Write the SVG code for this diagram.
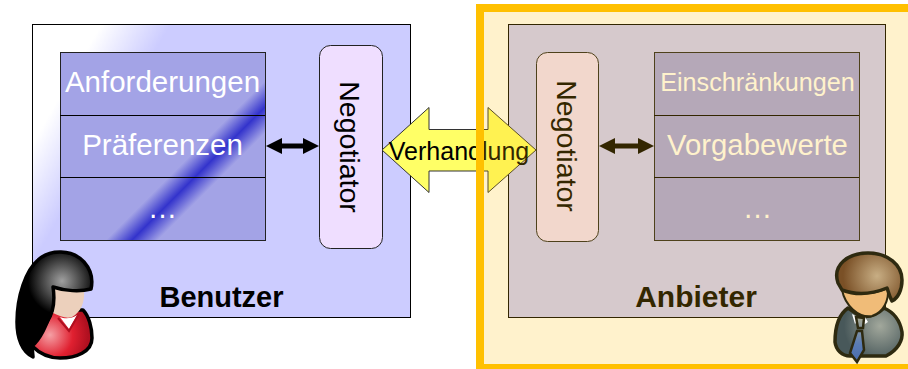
<svg xmlns="http://www.w3.org/2000/svg" width="908" height="369" viewBox="0 0 908 369">
<style>
text{font-family:"Liberation Sans",Arial,sans-serif;text-anchor:middle}
.box{fill:#ccccff;stroke:#000;stroke-width:1}
.cell{stroke:#222;stroke-width:1}
.neg{fill:#efdeff;stroke:#222;stroke-width:1}
.lbl{fill:#fff;font-size:29.500px}
.dark{fill:#000}
.title{fill:#000;font-size:29px;font-weight:bold}
.ln{stroke:#000;stroke-width:1;fill:none}
.po{stroke-width:3.500;stroke-linejoin:round}
</style>
<defs>
<linearGradient id="boxGrad" gradientUnits="userSpaceOnUse" x1="87" y1="49" x2="139" y2="79">
<stop offset="0" stop-color="#ffffff"/><stop offset="1" stop-color="#ccccff"/>
</linearGradient>
<linearGradient id="bandGrad" gradientUnits="userSpaceOnUse" x1="173" y1="173" x2="199" y2="199">
<stop offset="0" stop-color="#a3a3e6"/><stop offset="0.5" stop-color="#3333cc"/><stop offset="1" stop-color="#a3a3e6"/>
</linearGradient>
<radialGradient id="hairW" gradientUnits="userSpaceOnUse" cx="62" cy="281" r="34">
<stop offset="0" stop-color="#a0a0a0"/><stop offset="1" stop-color="#000"/>
</radialGradient>
<radialGradient id="redW" gradientUnits="userSpaceOnUse" cx="50" cy="335" r="38">
<stop offset="0" stop-color="#f5a0a5"/><stop offset="0.6" stop-color="#e02030"/><stop offset="1" stop-color="#b01020"/>
</radialGradient>
<radialGradient id="hairM" gradientUnits="userSpaceOnUse" cx="877" cy="276" r="34">
<stop offset="0" stop-color="#c8ae84"/><stop offset="1" stop-color="#7a5026"/>
</radialGradient>
<radialGradient id="suitM" gradientUnits="userSpaceOnUse" cx="880" cy="326" r="36">
<stop offset="0" stop-color="#a2a89c"/><stop offset="1" stop-color="#48585a"/>
</radialGradient>
<linearGradient id="tieM" x1="0" y1="0" x2="0" y2="1">
<stop offset="0" stop-color="#a8a890"/><stop offset="0.6" stop-color="#5a7cb4"/><stop offset="1" stop-color="#4a6cac"/>
</linearGradient>
</defs>

<g id="benutzer">
<rect class="box" x="32.500" y="24.500" width="378" height="293" style="fill:url(#boxGrad)"/>
<text class="title" x="221.500" y="307">Benutzer</text>
</g>
<g id="benutzer-stack">
<rect class="cell" x="60.500" y="52.500" width="205" height="188" style="fill:url(#bandGrad)"/>
<line class="ln" x1="60" y1="115.500" x2="265" y2="115.500"/>
<line class="ln" x1="60" y1="177.500" x2="265" y2="177.500"/>
<text class="lbl" x="162.500" y="92">Anforderungen</text>
<text class="lbl" x="162.500" y="155">Präferenzen</text>
<text class="lbl" x="162.500" y="218">…</text>
</g>
<g id="negotiator-benutzer">
<rect class="neg" x="319.500" y="45.500" width="63" height="203" rx="11"/>
<text class="dark" font-size="28.500" transform="translate(340 147) rotate(90)">Negotiator</text>
</g>

<g id="anbieter">
<rect class="box" x="508.500" y="24.500" width="377" height="293"/>
<text class="title" x="696" y="307" style="font-size:30px">Anbieter</text>
</g>
<g id="anbieter-stack">
<rect class="cell" x="654.500" y="52.500" width="205" height="188" fill="#a3a3e6"/>
<line class="ln" x1="654" y1="115.500" x2="859" y2="115.500"/>
<line class="ln" x1="654" y1="177.500" x2="859" y2="177.500"/>
<text class="lbl" x="757.500" y="91" style="font-size:25.200px">Einschränkungen</text>
<text class="lbl" x="757.500" y="155" style="font-size:29.300px">Vorgabewerte</text>
<text class="lbl" x="757.500" y="218">…</text>
</g>
<g id="negotiator-anbieter">
<rect class="neg" x="536.500" y="52.500" width="62" height="189" rx="11"/>
<text class="dark" font-size="28.500" transform="translate(557 146) rotate(90)">Negotiator</text>
</g>

<g id="connectors">
<path d="M266,146 L282,138 L282,143.500 L303,143.500 L303,138 L319,146 L303,154 L303,148.500 L282,148.500 L282,154 Z" fill="#000"/>
<path d="M599,146 L615,138 L615,143.500 L638,143.500 L638,138 L654,146 L638,154 L638,148.500 L615,148.500 L615,154 Z" fill="#000"/>
<path d="M382,150 L429,107.500 L429,129.500 L488,129.500 L488,107.500 L536,150 L488,192.500 L488,171 L429,171 L429,192.500 Z" fill="#ffff66" stroke="#333" stroke-width="1"/>
<text x="459" y="160" font-size="25" fill="#000">Verhandlung</text>
</g>

<g id="anbieter-rahmen">
<rect x="480" y="8" width="460" height="360" fill="#ffc000" fill-opacity="0.2" stroke="#ffc000" stroke-width="8"/>
</g>

<g id="frau">
<path class="po" d="M32,346 C42,338 48,320 52,310 L83,310 C89,316 92,328 92,338 C92,352 76,358 60,358 C48,358 38,352 32,346 Z" fill="url(#redW)" stroke="#000"/>
<path d="M53,287 C65,292 80,293 84,290 C85,302 81,312 72,317 C66,319 60,316 53,313 C55,305 55,295 53,287 Z" fill="#ecd0bc"/>
<path d="M60,317 C64,319 72,319 77,315 L69,329 Z" fill="#fff"/>
<path d="M58,318 L69,331 L79,314" fill="none" stroke="#b01020" stroke-width="2"/>
<path class="po" d="M33,357 C22,352 17,338 17,322 C17,296 26,270 38,260 C50,249 72,249 84,262 C91,270 93,280 91,289 C80,292 65,291 53,287 C55,300 54,312 47,322 C41,332 34,338 32,346 Z" fill="url(#hairW)" stroke="#000"/>
</g>

<g id="mann">
<path class="po" d="M848,308 C838,315 835,330 835,342 C836,350 842,356 850,356 L886,356 C898,350 903,340 902,332 C900,320 893,312 884,308 C878,314 870,318 860,316 Z" fill="url(#suitM)" stroke="#2e2a10"/>
<path d="M852,314 L855,324 L860,318 Z M865,317 L868,322 L862,326 Z" fill="#fff"/>
<path d="M856,317 L864,318 L863,328 L858,328 Z M857,331 L862,331 L864,350 L857,362 L850,353 Z" fill="url(#tieM)" stroke="#2e2a10" stroke-width="2.500"/>
<path d="M842,290 C855,295 872,295 888,288 C889,300 884,312 872,316 C858,318 845,305 842,290 Z" fill="#f0bc78" stroke="#2e2a10" stroke-width="2"/>
<path class="po" d="M838,283 C832,265 848,253 868,253 C888,253 902,265 902,280 C902,290 898,298 892,301 C889,296 888,290 887,288 C870,295 855,295 842,290 Z" fill="url(#hairM)" stroke="#2e2a10"/>
</g>
</svg>
